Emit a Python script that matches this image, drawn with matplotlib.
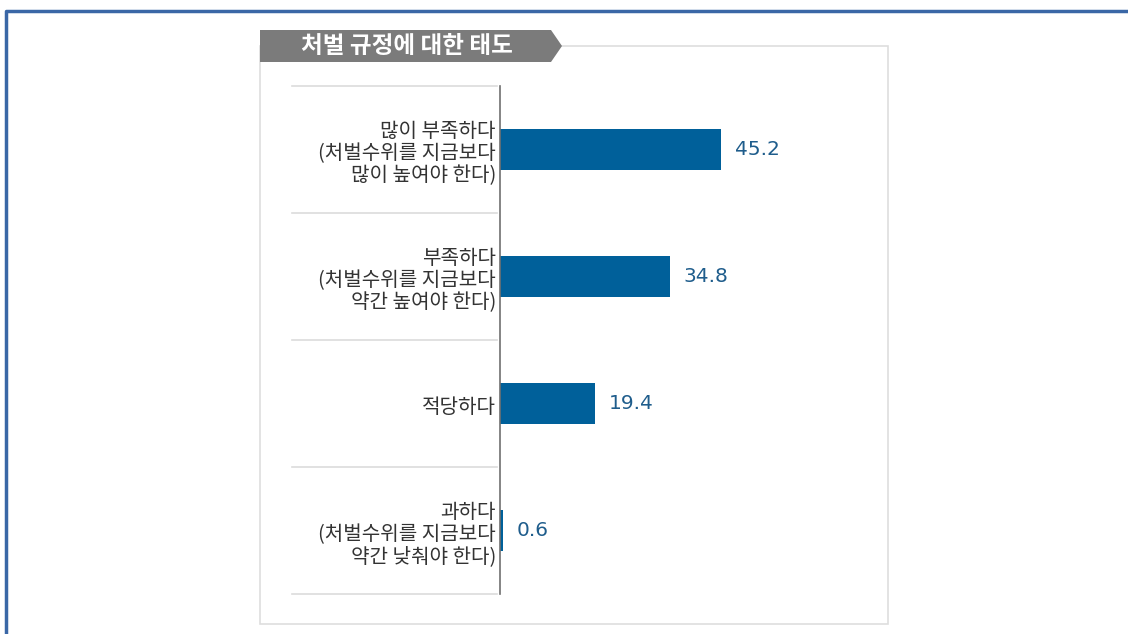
import matplotlib.pyplot as plt
from matplotlib.patches import Polygon, Rectangle
from matplotlib.lines import Line2D
from matplotlib.transforms import blended_transform_factory, offset_copy

plt.rcParams['font.family'] = ['Noto Sans CJK KR', 'DejaVu Sans']

title = "처벌 규정에 대한 태도"
categories = [
    "많이 부족하다\n(처벌수위를 지금보다\n많이 높여야 한다)",
    "부족하다\n(처벌수위를 지금보다\n약간 높여야 한다)",
    "적당하다",
    "과하다\n(처벌수위를 지금보다\n약간 낮춰야 한다)",
]
values = [45.2, 34.8, 19.4, 0.6]

W, H = 1128, 634
fig = plt.figure(figsize=(W / 100, H / 100), dpi=100)


def fx(px):
    return px / W


def fy(py):
    return 1 - py / H


# outer blue frame (top and left only)
fig.add_artist(Line2D([fx(6), fx(6), fx(1128)], [fy(634), fy(11), fy(11)],
                      color='#3a67a6', lw=2.5, transform=fig.transFigure))

# light grey panel
fig.add_artist(Rectangle((fx(260), fy(624)), fx(888) - fx(260), fy(46) - fy(624),
                         fill=False, ec='#dedede', lw=1.2, transform=fig.transFigure))

# title banner
banner = [(260, 30), (551, 30), (562, 46), (551, 62), (260, 62)]
fig.add_artist(Polygon([(fx(x), fy(y)) for x, y in banner], closed=True,
                       fc='#7b7b7b', ec='none', transform=fig.transFigure))
fig.text(fx(407), fy(46), title, color='white', fontsize=17, fontweight='bold',
         ha='center', va='center')

# bar axes
ax_left, ax_right = 500, 867
ax_top, ax_bot = 86, 594
ax = fig.add_axes([fx(ax_left), fy(ax_bot), fx(ax_right) - fx(ax_left), fy(ax_top) - fy(ax_bot)])
ax.set_xlim(0, (ax_right - ax_left) / 4.89)
ax.set_ylim(len(values) - 0.5, -0.5)

ypos = list(range(len(values)))
ax.barh(ypos, values, height=0.33, color='#00609a')
for y, v in zip(ypos, values):
    ax.text(v + 2.8, y, f"{v:.1f}", color='#1f5d8c', fontsize=14.5, va='center', ha='left',
            family=['DejaVu Sans'])

ax.set_yticks([])
ax.set_xticks([])
for s in ['top', 'right', 'bottom']:
    ax.spines[s].set_visible(False)
ax.spines['left'].set_color('#707070')
ax.spines['left'].set_linewidth(1.2)
ax.patch.set_alpha(0)

# category labels and separators (x in figure coords, y in data coords)
trans = blended_transform_factory(fig.transFigure, ax.transData)
label_trans = offset_copy(trans, fig=fig, y=-3, units='points')
for y, lab in zip(ypos, categories):
    fig.text(fx(496), y, lab, transform=label_trans, ha='right', va='center',
             fontsize=14.5, color='#333333', linespacing=1.08)
for i in range(len(values) + 1):
    fig.add_artist(Line2D([fx(292), fx(497)], [i - 0.5, i - 0.5], color='#dcdcdc',
                          lw=1.2, transform=trans))

fig.savefig('out.png', dpi=100, facecolor='white')
